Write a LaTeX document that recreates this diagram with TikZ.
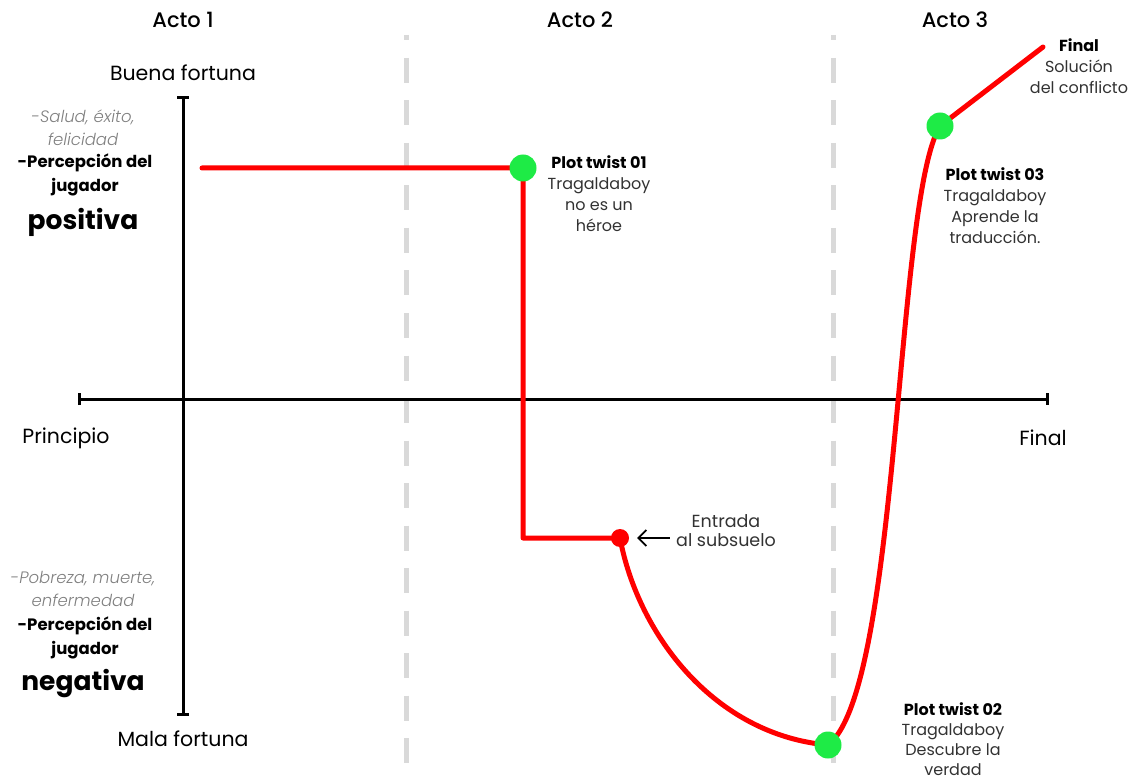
\documentclass[tikz,border=0pt]{standalone}
\usepackage{fontspec}
\setmainfont{Poppins}
\newfontfamily\medio{Poppins Medium}
\newfontfamily\ligera{Poppins Light}[ItalicFont=* Italic]
\usepackage{xcolor}
\usetikzlibrary{arrows.meta,positioning,backgrounds}
\definecolor{verde}{RGB}{30,235,70}
\definecolor{texto}{RGB}{50,50,50}

\begin{document}
\begin{tikzpicture}[
  x=1pt, y=-1pt,
  acto/.style={font=\fontsize{21}{24}\selectfont\medio},
  eje/.style={font=\fontsize{20.5}{24}\selectfont},
  nota/.style={font=\fontsize{16.5}{23}\selectfont\ligera\itshape, text=gray, align=center, inner sep=0pt},
  percep/.style={font=\fontsize{16.5}{24}\selectfont\bfseries, align=center, inner sep=0pt},
  grande/.style={font=\fontsize{26.5}{28}\selectfont\bfseries, inner sep=0pt},
  twist/.style={font=\fontsize{16}{21}\selectfont, text=texto, align=center, inner sep=0pt},
  punto/.style={circle, fill=verde, minimum size=27pt, inner sep=0pt},
  trama/.style={red, line width=5pt, line cap=round, line join=round},
  corte/.style={gray!30, line width=5pt, dash pattern=on 25pt off 17.5pt, dash phase=19.5pt},
  >=Stealth
]
\useasboundingbox (0,0) rectangle (1139,783);

%% --- actos ---
\node[acto] (a1) at (183,20) {Acto 1};
\node[acto] (a2) at (580,20) {Acto 2};
\node[acto] (a3) at (955,20) {Acto 3};

%% --- ejes ---
\coordinate (ejeT) at (183,96);
\coordinate (ejeB) at (183,716);
\coordinate (ejeL) at (78,399);
\coordinate (ejeR) at (1049,399);
\node[eje] (buena) at (183,73) {Buena fortuna};
\node[eje] (mala) at (183,739) {Mala fortuna};
\node[eje] (prin) at (66,438) {Principio};
\node[eje] (fin) at (1043,438) {Final};

%% --- textos izquierda ---
\node[nota] (salud) at (83,128) {-Salud, éxito,\\felicidad};
\node[percep] (perc1) at (85,175) {-Percepción del\\jugador};
\node[grande] (pos) at (83,222) {positiva};
\node[nota] (pobre) at (83,589) {-Pobreza, muerte,\\enfermedad};
\node[percep] (perc2) at (85,638) {-Percepción del\\jugador};
\node[grande] (neg) at (83,684) {negativa};

%% --- puntos de giro ---
\coordinate (ini) at (202,168);
\node[punto] (pt1) at (523,168) {};
\node[circle, fill=red, minimum size=18pt, inner sep=0pt] (sub) at (620,538) {};
\node[punto] (pt2) at (828,745) {};
\node[punto] (pt3) at (940,126) {};
\coordinate (fin2) at (1043,47);

\node[twist, anchor=north] (t1) at (599,155)
  {\textbf{\textcolor{black}{Plot twist 01}}\\Tragaldaboy\\no es un\\héroe};
\node[twist, anchor=north] (t3) at (995,167)
  {\textbf{\textcolor{black}{Plot twist 03}}\\Tragaldaboy\\Aprende la\\traducción.};
\node[twist, anchor=north, font=\fontsize{16}{20}\selectfont] (t2) at (953,702)
  {\textbf{\textcolor{black}{Plot twist 02}}\\Tragaldaboy\\Descubre la\\verdad};
\node[twist, anchor=north] (tf) at (1079,38)
  {\textbf{\textcolor{black}{Final}}\\Solución\\del conflicto};
\node[twist, font=\fontsize{17.5}{19}\selectfont] (ent) at (726,531) {Entrada\\al subsuelo};

\begin{scope}[on background layer]
  \draw[corte] (406,35) -- (406,765);
  \draw[corte] (833,35) -- (833,765);
  \draw[line width=3pt, {Bar[width=12pt]}-{Bar[width=12pt]}] (ejeT) -- (ejeB);
  \draw[line width=3pt, {Bar[width=12pt]}-{Bar[width=12pt]}] (ejeL) -- (ejeR);
  \draw[trama] (ini) -- (pt1.center) |- (sub.center)
    .. controls (638,635) and (715,735) .. (pt2.center)
    .. controls (900,690) and (895,200) .. (pt3.center) -- (fin2);
\end{scope}

\draw[line width=1.8pt, -{Straight Barb[length=8pt,width=16pt]}, shorten <=6pt, shorten >=17pt]
  (ent.west |- sub) -- (sub.center);
\end{tikzpicture}
\end{document}
